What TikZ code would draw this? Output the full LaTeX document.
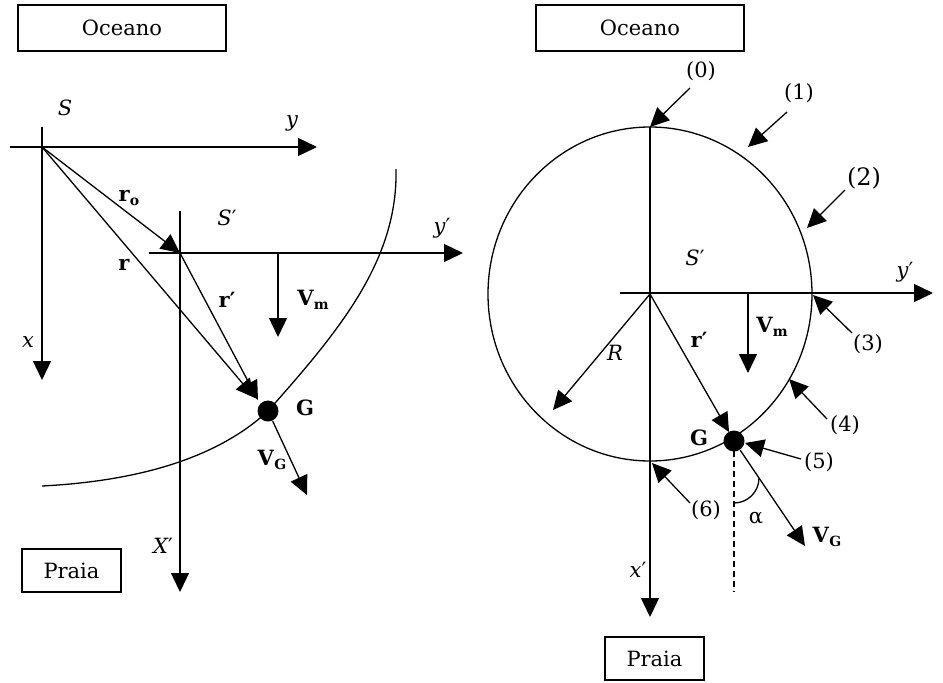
\documentclass[tikz,border=0pt]{standalone}
\usepackage{fontspec}
\setmainfont{DejaVu Serif}
\usetikzlibrary{arrows.meta}
\newcommand{\vsub}[2]{\textbf{#1}\raisebox{-0.35ex}{\fontsize{14pt}{14pt}\selectfont\bfseries #2}}
\begin{document}
\begin{tikzpicture}[x=1pt,y=-1pt,line width=1.3pt,
  font=\fontsize{21pt}{25pt}\selectfont,
  every node/.style={inner sep=0pt},
  arr/.style={-{Triangle[length=19pt,width=18pt]}},
  box/.style={draw,minimum height=46pt},
  dot/.style={circle,fill,minimum size=21pt,inner sep=0pt}]
\useasboundingbox (0,0) rectangle (943,683);

% ---------------- left panel ----------------
\node[box,minimum width=208pt] (oceL) at (122,28) {Oceano};
\node[box,minimum width=99pt,minimum height=43pt] (praL) at (71.5,570.5) {Praia};

\coordinate (S) at (42,147);
\coordinate (xa0) at (42,127);  \coordinate (xa1) at (42,380);
\coordinate (ya0) at (10,147);  \coordinate (ya1) at (317,147);
\coordinate (Sp) at (180,253);
\coordinate (xpa0) at (180,211); \coordinate (xpa1) at (180,592);
\coordinate (ypa0) at (149,253); \coordinate (ypa1) at (463,253);
\coordinate (vm0) at (278,253); \coordinate (vm1) at (278,337);
\coordinate (rtip) at (255,398);
\coordinate (rptip) at (258,400);
\coordinate (vgL) at (307,495);
\coordinate (c0) at (396,169); \coordinate (c2) at (42,486);

\draw[arr] (xa0) -- (xa1);
\draw[arr] (ya0) -- (ya1);
\draw[arr] (xpa0) -- (xpa1);
\draw[arr] (ypa0) -- (ypa1);
\draw[arr] (S) -- (Sp);
\draw[arr] (S) -- (rtip);
\draw[arr] (Sp) -- (rptip);
\draw[arr] (vm0) -- (vm1);
\draw (c0) .. controls (398,260) and (340,330) .. (268,411)
      .. controls (210,465) and (120,482) .. (c2);
\node[dot] (GL) at (268,411) {};
\draw[arr] (GL) -- (vgL);

\node (Slab) at (65,108) {\itshape S};
\node (ylab) at (292,123) {\itshape y};
\node (rolab) at (129,198) {\vsub{r}{o}};
\node (Splab) at (227,218) {{\itshape S}′};
\node (yplab) at (442,228) {{\itshape y}′};
\node (rlab) at (124,265) {\bfseries r};
\node (rplab) at (227,300) {\bfseries r′};
\node (vmlab) at (313,300) {\vsub{V}{m}};
\node (xlab) at (28,342) {\itshape x};
\node (Glab) at (305,408) {\bfseries G};
\node (vglab) at (272,460) {\vsub{V}{G}};
\node (Xplab) at (163,546) {{\itshape X}′};

% ---------------- right panel ----------------
\node[box,minimum width=208pt] (oceR) at (640,28) {Oceano};
\node[box,minimum width=99pt,minimum height=43pt] (praR) at (654.5,658.5) {Praia};

\coordinate (O) at (650,294);
\draw (O) ellipse [x radius=162pt, y radius=167pt];
\coordinate (xr0) at (650,127); \coordinate (xr1) at (650,617);
\coordinate (yr0) at (620,293); \coordinate (yr1) at (933,293);
\coordinate (vmr0) at (748,293); \coordinate (vmr1) at (748,373);
\coordinate (Rtip) at (553,410);
\coordinate (rprtip) at (729,432);
\coordinate (vgR) at (805,546);
\coordinate (dash1) at (734,592);
\coordinate (GRc) at (734,441);

\draw[arr] (xr0) -- (xr1);
\draw[arr] (yr0) -- (yr1);
\draw[arr] (vmr0) -- (vmr1);
\draw[arr] (O) -- (Rtip);
\draw[arr] (O) -- (rprtip);
\draw[dash pattern=on 6pt off 4pt] (GRc) -- (dash1);
\draw (734,503) .. controls (747.8,503) and (759,491.8) .. (759,478);
\node[dot] (GR) at (GRc) {};
\draw[arr] (GR) -- (vgR);

% numbered arrows
\coordinate (t0) at (690,88);  \coordinate (h0) at (650,127);
\coordinate (t1) at (787,112); \coordinate (h1) at (748,147);
\coordinate (t2) at (845,190); \coordinate (h2) at (807,228);
\coordinate (t3) at (852,333); \coordinate (h3) at (813,295);
\coordinate (t4) at (827,419); \coordinate (h4) at (789,379);
\coordinate (t5) at (801,459); \coordinate (h5) at (745,443);
\coordinate (t6) at (690,503); \coordinate (h6) at (652,463);
\foreach \i in {0,...,6} {\draw[arr] (t\i) -- (h\i);}

\node (n0) at (701,71) {(0)};
\node (n1) at (799,93) {(1)};
\node (n2) at (864,178) {\fontsize{24pt}{28pt}\selectfont (2)};
\node (n3) at (868,344) {(3)};
\node (n4) at (845,425) {(4)};
\node (n5) at (819,462) {(5)};
\node (n6) at (706,510) {(6)};

\node (Sprlab) at (695,258) {{\itshape S}′};
\node (yprlab) at (905,272) {{\itshape y}′};
\node (vmrlab) at (772,327) {\vsub{V}{m}};
\node (rprlab) at (699,340) {\bfseries r′};
\node (Rlab) at (615,353) {\itshape R};
\node (GRlab) at (699,438) {\bfseries G};
\node (alab) at (756,518) {α};
\node (vgrlab) at (827,537) {\vsub{V}{G}};
\node (xprlab) at (638,570) {{\itshape x}′};
\end{tikzpicture}
\end{document}
